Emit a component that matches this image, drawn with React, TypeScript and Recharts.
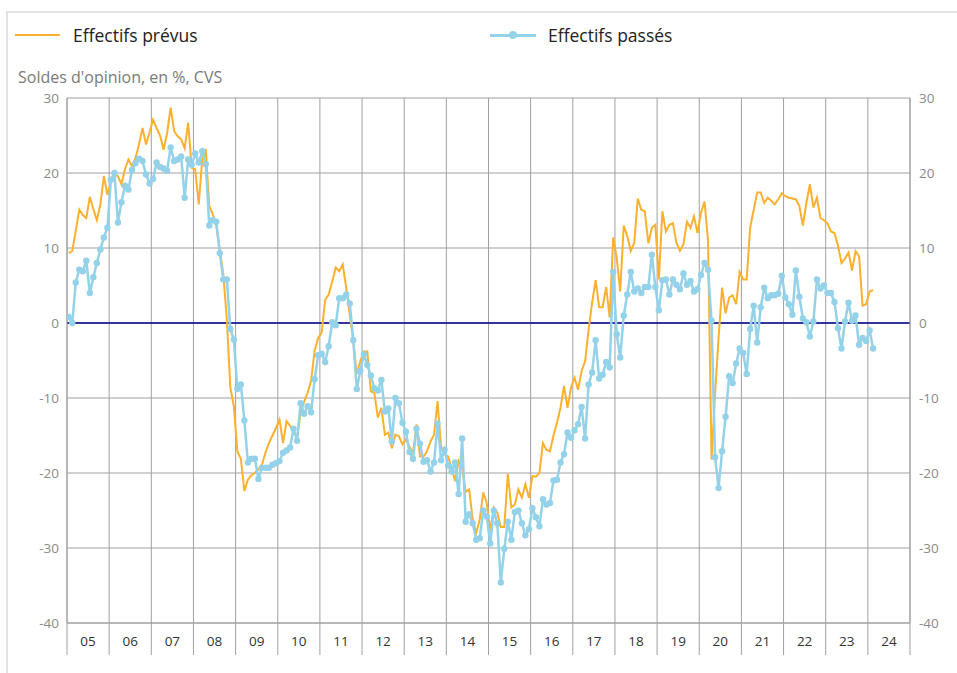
import { CartesianGrid, Line, LineChart, ReferenceLine, XAxis, YAxis } from "recharts";

const yearLabels = ["05", "06", "07", "08", "09", "10", "11", "12", "13", "14", "15", "16", "17", "18", "19", "20", "21", "22", "23", "24"];
const yTicks = [-40, -30, -20, -10, 0, 10, 20, 30];

// soldes mensuels, un tableau par année (2005 -> fév. 2024)
const effectifsPrevus: number[][] = [
  [9.3, 9.6, 12.3, 15.1, 14.4, 14.0, 16.8, 15.2, 13.7, 15.8, 19.6, 17.1],
  [18.8, 19.8, 19.6, 18.5, 20.5, 21.8, 20.9, 22.0, 23.8, 26.0, 23.8, 25.4],
  [27.1, 26.0, 25.0, 23.1, 25.3, 28.7, 25.6, 24.9, 24.5, 23.3, 26.7, 20.7],
  [20.5, 15.8, 21.8, 23.2, 15.6, 14.5, 13.0, 9.8, 6.5, 0.5, -8.6, -11.1],
  [-17.1, -18.1, -22.4, -20.9, -20.3, -20.0, -19.5, -18.9, -17.3, -16.0, -15.0, -14.0],
  [-12.9, -16.0, -13.1, -13.7, -14.5, -15.3, -12.0, -10.5, -9.3, -7.7, -3.7, -2.0],
  [-1.3, 3.1, 3.8, 5.5, 7.4, 6.9, 7.8, 4.7, 1.1, -2.4, -6.8, -5.1],
  [-3.8, -3.8, -9.1, -9.3, -12.6, -11.3, -14.9, -14.6, -16.7, -14.9, -15.1, -16.2],
  [-15.5, -16.5, -17.4, -13.5, -17.8, -17.8, -17.1, -15.8, -14.9, -10.4, -16.6, -17.5],
  [-17.8, -19.3, -21.1, -18.4, -19.3, -22.5, -22.2, -26.2, -28.0, -26.2, -22.6, -24.0],
  [-27.8, -24.6, -25.3, -27.2, -27.2, -20.1, -24.6, -24.2, -22.2, -23.3, -21.5, -23.3],
  [-20.4, -20.5, -20.0, -16.0, -16.9, -17.1, -15.0, -13.3, -11.3, -8.4, -11.3, -8.6],
  [-7.3, -8.9, -6.4, -5.1, -0.9, 2.7, 5.7, 2.1, 2.1, 4.8, 0.7, 11.4],
  [8.7, 4.2, 13.0, 11.6, 9.6, 10.7, 16.6, 15.1, 14.9, 10.6, 12.7, 13.1],
  [5.8, 14.9, 12.2, 13.1, 13.3, 10.7, 9.6, 10.5, 13.5, 12.7, 14.2, 12.0],
  [14.7, 16.2, 11.0, -18.2, -9.5, -2.0, 4.7, 1.3, 3.4, 3.7, 2.5, 6.8],
  [5.8, 5.8, 12.7, 15.1, 17.4, 17.4, 16.0, 16.7, 16.3, 15.8, 16.5, 17.3],
  [16.9, 16.7, 16.6, 16.5, 15.6, 13.0, 16.0, 18.5, 15.4, 16.7, 14.0, 13.7],
  [13.3, 12.2, 12.0, 10.3, 8.0, 8.6, 9.4, 7.0, 9.6, 8.9, 2.3, 2.5],
  [4.2, 4.4]
];

const effectifsPasses: number[][] = [
  [0.8, 0.0, 5.4, 7.1, 6.9, 8.3, 4.0, 6.1, 8.0, 9.8, 11.4, 12.7],
  [19.1, 20.0, 13.4, 16.1, 18.3, 17.8, 20.4, 21.3, 21.9, 21.6, 19.8, 18.6],
  [19.2, 21.4, 20.8, 20.6, 20.3, 23.4, 21.6, 21.8, 22.2, 16.7, 21.8, 21.1],
  [22.6, 21.4, 22.9, 21.2, 13.0, 13.7, 13.5, 9.3, 5.8, 5.8, -0.8, -2.2],
  [-8.8, -8.2, -13.0, -18.6, -18.1, -18.1, -20.8, -19.3, -19.3, -19.3, -18.9, -18.7],
  [-18.4, -17.3, -17.0, -16.6, -14.1, -15.7, -10.7, -12.1, -11.1, -11.9, -7.5, -4.3],
  [-4.1, -5.2, -3.1, 0.1, -0.3, 3.3, 3.3, 3.8, 2.6, -2.3, -8.8, -6.4],
  [-4.2, -5.6, -7.0, -8.7, -9.0, -7.6, -11.8, -11.4, -15.8, -10.0, -10.7, -13.3],
  [-14.5, -17.2, -18.1, -14.1, -16.1, -18.5, -18.3, -19.8, -18.6, -13.4, -18.3, -16.9],
  [-19.0, -19.8, -18.6, -22.8, -15.4, -26.5, -25.5, -26.7, -28.9, -28.7, -25.0, -25.8],
  [-29.4, -25.0, -26.7, -34.6, -30.1, -26.5, -28.9, -25.2, -25.0, -26.7, -28.3, -27.5],
  [-24.7, -25.9, -27.1, -23.5, -24.2, -24.0, -21.0, -20.9, -18.6, -17.5, -14.6, -15.3],
  [-14.3, -13.5, -11.2, -15.4, -8.2, -6.6, -2.3, -7.4, -6.9, -5.2, -5.9, 6.8],
  [-1.5, -4.6, 1.0, 3.8, 6.8, 4.2, 4.6, 4.0, 4.8, 4.8, 9.1, 4.8],
  [1.7, 5.7, 5.8, 3.8, 5.8, 5.1, 4.5, 6.6, 5.1, 5.6, 4.2, 4.5],
  [6.4, 8.0, 7.1, 0.3, -17.9, -22.0, -17.1, -12.5, -7.1, -8.0, -5.4, -3.4],
  [-4.0, -6.8, -0.8, 2.3, -2.6, 2.1, 4.7, 3.3, 3.7, 3.7, 3.9, 6.3],
  [3.4, 2.5, 1.1, 7.0, 3.5, 0.6, 0.1, -1.8, 0.2, 5.8, 4.6, 5.0],
  [4.0, 4.0, 2.8, -0.7, -3.4, 0.2, 2.7, 0.3, 1.0, -2.9, -2.0, -2.4],
  [-1.0, -3.4]
];

const prevusMensuels = effectifsPrevus.flat();
const passesMensuels = effectifsPasses.flat();
// x = milieu du mois (0 = début janvier 2005)
const data = prevusMensuels.map((value, i) => ({ x: i + 0.5, prevus: value, passes: passesMensuels[i] }));

const monthCount = yearLabels.length * 12;
const yearBounds = Array.from({ length: yearLabels.length + 1 }, (_, i) => i * 12);
const yearMiddles = yearLabels.map((_, i) => i * 12 + 6);

const gridColor = "#a0a0a0";
const orange = "#fbb12f";
const blue = "#94d2ea";

export default function App() {
  return (
    <div
      style={{
        position: "absolute",
        left: 0,
        top: 0,
        width: 957,
        height: 673,
        background: "#fff",
        fontFamily: "'Open Sans', sans-serif",
        overflow: "hidden"
      }}
    >
      <div
        style={{
          position: "absolute",
          left: 6,
          top: 11,
          right: -4,
          bottom: -4,
          borderTop: "2px solid #e2e2e2",
          borderLeft: "2px solid #e2e2e2"
        }}
      />
      <div style={{ position: "absolute", left: 15, top: 34, width: 45, height: 2, background: orange }} />
      <div style={{ position: "absolute", left: 73, top: 22, fontSize: 17.5, lineHeight: "26px", color: "#222" }}>Effectifs prévus</div>
      <div style={{ position: "absolute", left: 490, top: 34, width: 46, height: 3, background: blue }} />
      <div style={{ position: "absolute", left: 509, top: 31, width: 8, height: 8, borderRadius: 4, background: blue }} />
      <div style={{ position: "absolute", left: 548, top: 22, fontSize: 17.5, lineHeight: "26px", color: "#222" }}>Effectifs passés</div>
      <div style={{ position: "absolute", left: 18, top: 64, fontSize: 16, lineHeight: "26px", color: "#7a7a7a" }}>Soldes d'opinion, en %, CVS</div>

      <div style={{ position: "absolute", left: 0, top: 0 }}>
        <LineChart width={957} height={673} data={data} margin={{ top: 98, right: 0, bottom: 48, left: 17 }}>
          <CartesianGrid stroke={gridColor} strokeWidth={1} />
          <XAxis
            xAxisId={0}
            type="number"
            dataKey="x"
            domain={[0, monthCount]}
            ticks={yearBounds}
            interval={0}
            tickFormatter={() => ""}
            tickSize={32}
            tickLine={{ stroke: gridColor }}
            axisLine={{ stroke: gridColor }}
            height={1}
            allowDataOverflow
          />
          <XAxis
            xAxisId="labels"
            type="number"
            dataKey="x"
            domain={[0, monthCount]}
            ticks={yearMiddles}
            interval={0}
            tickFormatter={(value) => yearLabels[Math.round((Number(value) - 6) / 12)]}
            tickLine={false}
            axisLine={false}
            tickSize={0}
            tickMargin={12}
            height={1}
            tick={{ fill: "#333", fontSize: 13.5 }}
            allowDataOverflow
          />
          <YAxis
            yAxisId={0}
            domain={[-40, 30]}
            ticks={yTicks}
            interval={0}
            width={50}
            tickLine={false}
            tickSize={0}
            tickMargin={8}
            axisLine={{ stroke: gridColor }}
            tick={{ fill: "#8a8a8a", fontSize: 13.5 }}
          />
          <YAxis
            yAxisId="right"
            orientation="right"
            domain={[-40, 30]}
            ticks={yTicks}
            interval={0}
            width={47}
            tickLine={false}
            tickSize={0}
            tickMargin={9}
            axisLine={{ stroke: gridColor }}
            tick={{ fill: "#8a8a8a", fontSize: 13.5 }}
          />
          <ReferenceLine y={0} stroke="#00008b" strokeWidth={1.5} />
          <Line
            type="linear"
            dataKey="prevus"
            name="Effectifs prévus"
            stroke={orange}
            strokeWidth={2}
            dot={false}
            isAnimationActive={false}
          />
          <Line
            type="linear"
            xAxisId="labels"
            yAxisId="right"
            dataKey="passes"
            name="Effectifs passés"
            stroke={blue}
            strokeWidth={2.5}
            dot={{ r: 3.2, fill: blue, stroke: "none" }}
            isAnimationActive={false}
          />
        </LineChart>
      </div>
    </div>
  );
}
